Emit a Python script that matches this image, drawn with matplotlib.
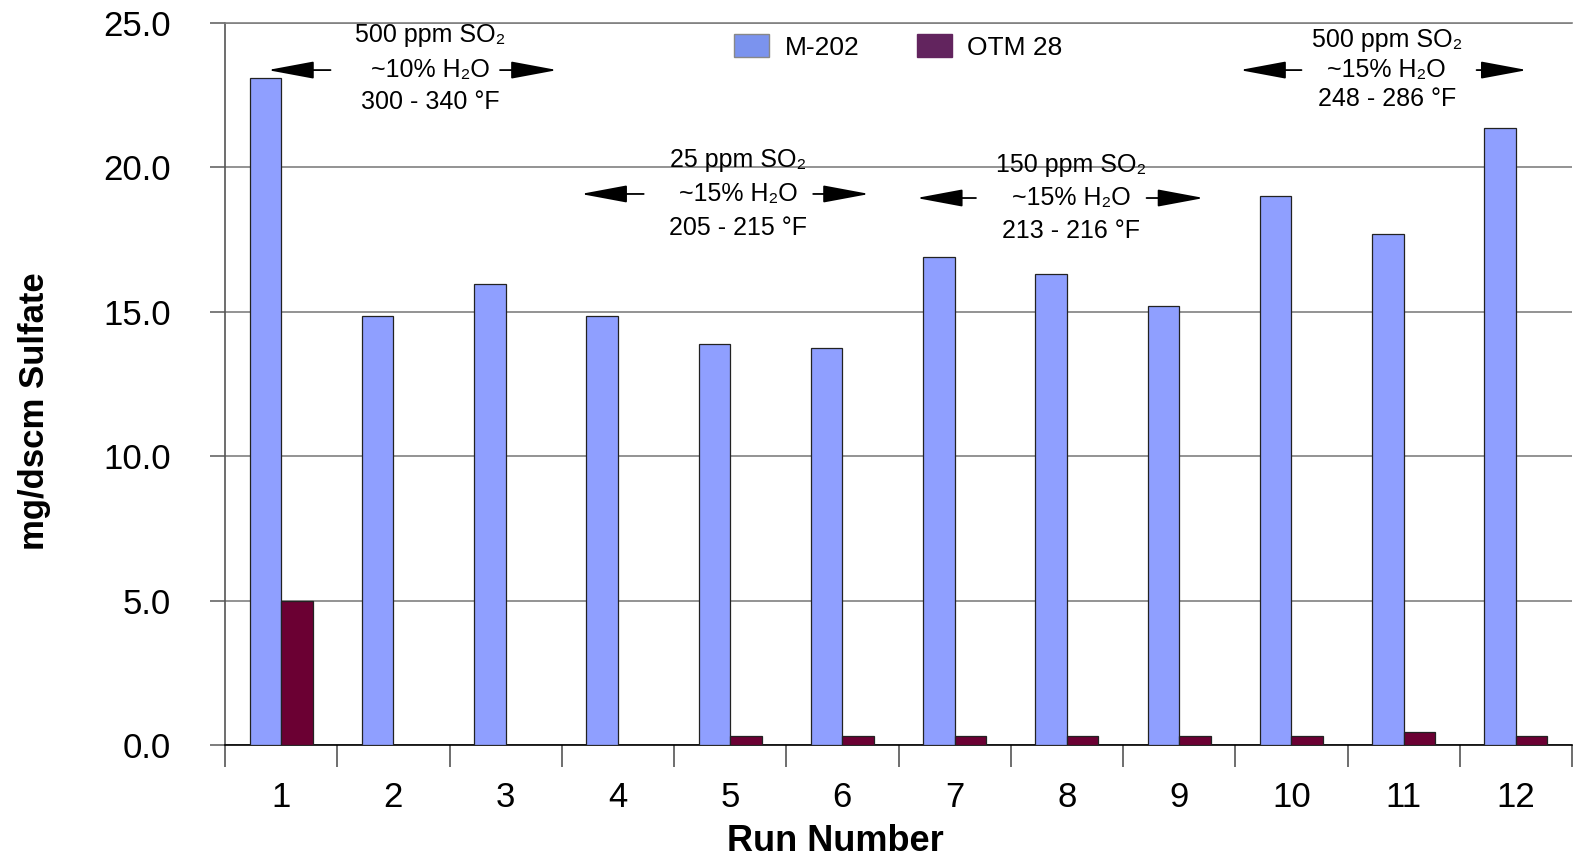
import matplotlib
matplotlib.use("Agg")
import matplotlib.pyplot as plt
from matplotlib.patches import Patch
import numpy as np

plt.rcParams['font.family'] = ['Liberation Sans', 'DejaVu Sans']

runs = np.arange(1, 13)
m202 = [23.1, 14.85, 15.95, 14.85, 13.9, 13.75, 16.9, 16.3, 15.2, 19.0, 17.7, 21.35]
otm28 = [5.0, 0.0, 0.0, 0.0, 0.3, 0.3, 0.3, 0.3, 0.3, 0.3, 0.45, 0.3]

# condition notes: center run, text lines, left arrow (tail, tip), right arrow (tail, tip), line heights
notes = [
    (2.33, ["500 ppm SO₂", "~10% H₂O", "300 - 340 °F"], (1.44, 0.88), (2.95, 3.46), (24.58, 23.37, 22.26)),
    (5.07, ["25 ppm SO₂", "~15% H₂O", "205 - 215 °F"], (4.23, 3.67), (5.74, 6.24), (20.26, 19.08, 17.90)),
    (8.04, ["150 ppm SO₂", "~15% H₂O", "213 - 216 °F"], (7.19, 6.66), (8.71, 9.22), (20.08, 18.94, 17.80)),
    (10.85, ["500 ppm SO₂", "~15% H₂O", "248 - 286 °F"], (10.09, 9.54), (11.65, 12.10), (24.41, 23.37, 22.37)),
]

fig = plt.figure(figsize=(15.75, 8.63), dpi=100)
ax = fig.add_axes([225/1575, 1-745/863, 1347/1575, 722/863])

w = 0.28
ax.bar(runs - w/2, m202, w, color='#8f9fff', edgecolor='#222222', linewidth=0.9, zorder=3)
ax.bar(runs + w/2, otm28, w, color='#6b0033', edgecolor='#222222', linewidth=0.9, zorder=3)

ax.set_xlim(0.5, 12.5)
ax.set_ylim(0, 25)
ax.set_yticks(np.arange(0, 26, 5))
ax.set_yticklabels([f"{v:.1f}" for v in np.arange(0, 26, 5)])
ax.yaxis.grid(True, color='#808080', linewidth=1.2, zorder=0)
ax.tick_params(axis='y', length=11, width=1.2, color='#666666', pad=28, labelsize=25)

# boundary ticks between runs, labels centred on runs
ax.set_xticks(np.arange(0.5, 13, 1))
ax.set_xticklabels([])
ax.set_xticks(runs, minor=True)
ax.set_xticklabels([str(r) for r in runs], minor=True)
ax.tick_params(axis='x', which='major', length=16, width=1.2, color='#555555')
ax.tick_params(axis='x', which='minor', length=0, pad=26, labelsize=25)

ax.spines['right'].set_visible(False)
ax.spines['top'].set_color('#808080')
ax.spines['top'].set_linewidth(1.2)
ax.spines['left'].set_color('#555555')
ax.spines['left'].set_linewidth(1.2)
ax.spines['bottom'].set_color('black')
ax.spines['bottom'].set_linewidth(1.2)

ax.set_xlabel("Run Number", fontsize=26, fontweight='bold', va='baseline')
ax.xaxis.set_label_coords(0.453, (745-851)/722)
fig.text(35/1575, 1-411/863, "mg/dscm Sulfate", rotation=90, ha='center', va='center',
         fontsize=25, fontweight='bold')

for cx, lines, la, ra, ys in notes:
    for txt, yy in zip(lines, ys):
        ax.text(cx, yy, txt, ha='center', va='center', fontsize=18, zorder=5)
    for tail, tip in (la, ra):
        ax.annotate("", xy=(tip, ys[1]), xytext=(tail, ys[1]),
                    arrowprops=dict(arrowstyle='-|>,head_length=1.45,head_width=0.27',
                                    mutation_scale=20, color='black', lw=1.3,
                                    shrinkA=0, shrinkB=0), zorder=5)

handles = [Patch(facecolor='#7b93ee', edgecolor='#888888', label='M-202'),
           Patch(facecolor='#62245e', edgecolor='#62245e', label='OTM 28')]
ax.legend(handles=handles, loc='center', bbox_to_anchor=(0.5, 0.967), ncol=2, frameon=False,
          fontsize=19, handlelength=1.3, handleheight=0.95, handletextpad=0.6, columnspacing=2.2)

fig.savefig("out.png", dpi=100)
